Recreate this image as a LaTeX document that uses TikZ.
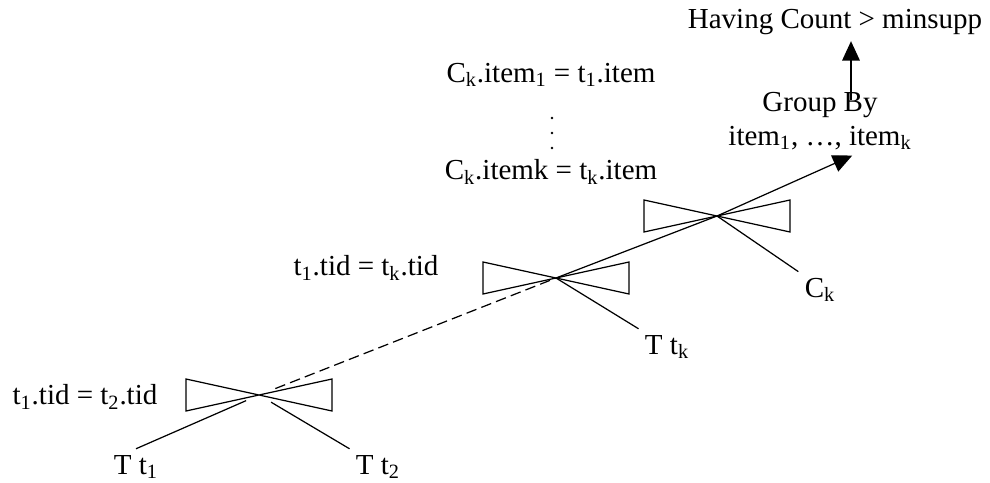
\documentclass[tikz,border=0pt]{standalone}
\usepackage{fontspec}
\setmainfont{Liberation Serif}
\usepackage{tikz}
\usetikzlibrary{arrows.meta, positioning}
\newcommand{\lo}[1]{\textsubscript{#1}}

\begin{document}
\begin{tikzpicture}[x=0.02cm, y=-0.02cm, line width=0.7pt,
    lbl/.style={font=\fontsize{16.5}{19}\selectfont, align=center},
    arr/.style={-{Triangle[length=11pt, width=10pt]}}]
        \useasboundingbox (0,0) rectangle (990,483);
        % join symbols
        \foreach \n/\x/\y in {j1/259/395, j2/556/278, j3/717/216}{
          \coordinate (\n) at (\x,\y);
          \draw ({\x-73},{\y-16}) -- ({\x+73},{\y+16}) -- ({\x+73},{\y-16})
                -- ({\x-73},{\y+16}) -- cycle;
        }
        \node[lbl] (having) at (835,22) {Having Count > minsupp};
        \node[lbl] (groupby) at (820,121) {Group By\\item\lo{1}, \dots, item\lo{k}};
        \node[lbl] (cond3a) at (551,75) {C\lo{k}.item\lo{1} = t\lo{1}.item};
        \node[lbl] (cond3b) at (551,172) {C\lo{k}.itemk = t\lo{k}.item};
        \node[lbl] (cond2) at (366,268) {t\lo{1}.tid = t\lo{k}.tid};
        \node[lbl] (cond1) at (85,397) {t\lo{1}.tid = t\lo{2}.tid};
        \node[lbl] (tt1) at (136,467) {T t\lo{1}};
        \node[lbl] (tt2) at (378,467) {T t\lo{2}};
        \node[lbl] (ttk) at (667,347) {T t\lo{k}};
        \node[lbl] (ck) at (820,290) {C\lo{k}};
        \foreach \y in {118,133,148}
          \fill (552,\y) circle (0.8pt);
        % inputs
        \draw[shorten <=8pt] (j1) -- (tt1.north);
        \draw[shorten <=8pt] (j1) -- (tt2.north west);
        \draw (j2) -- (ttk.north west);
        \draw (j3) -- (ck.north west);
        % pipeline
        \draw[dashed, dash pattern=on 6pt off 3pt, shorten <=10pt] (j1) -- (j2);
        \draw (j2) -- (j3);
        \draw[arr, shorten >=41pt] (j3) -- ([yshift=17pt]groupby.south east);
        \coordinate (gbtop) at (851,100);
        \draw[arr] (gbtop) -- (gbtop |- having.south);
\end{tikzpicture}
\end{document}
